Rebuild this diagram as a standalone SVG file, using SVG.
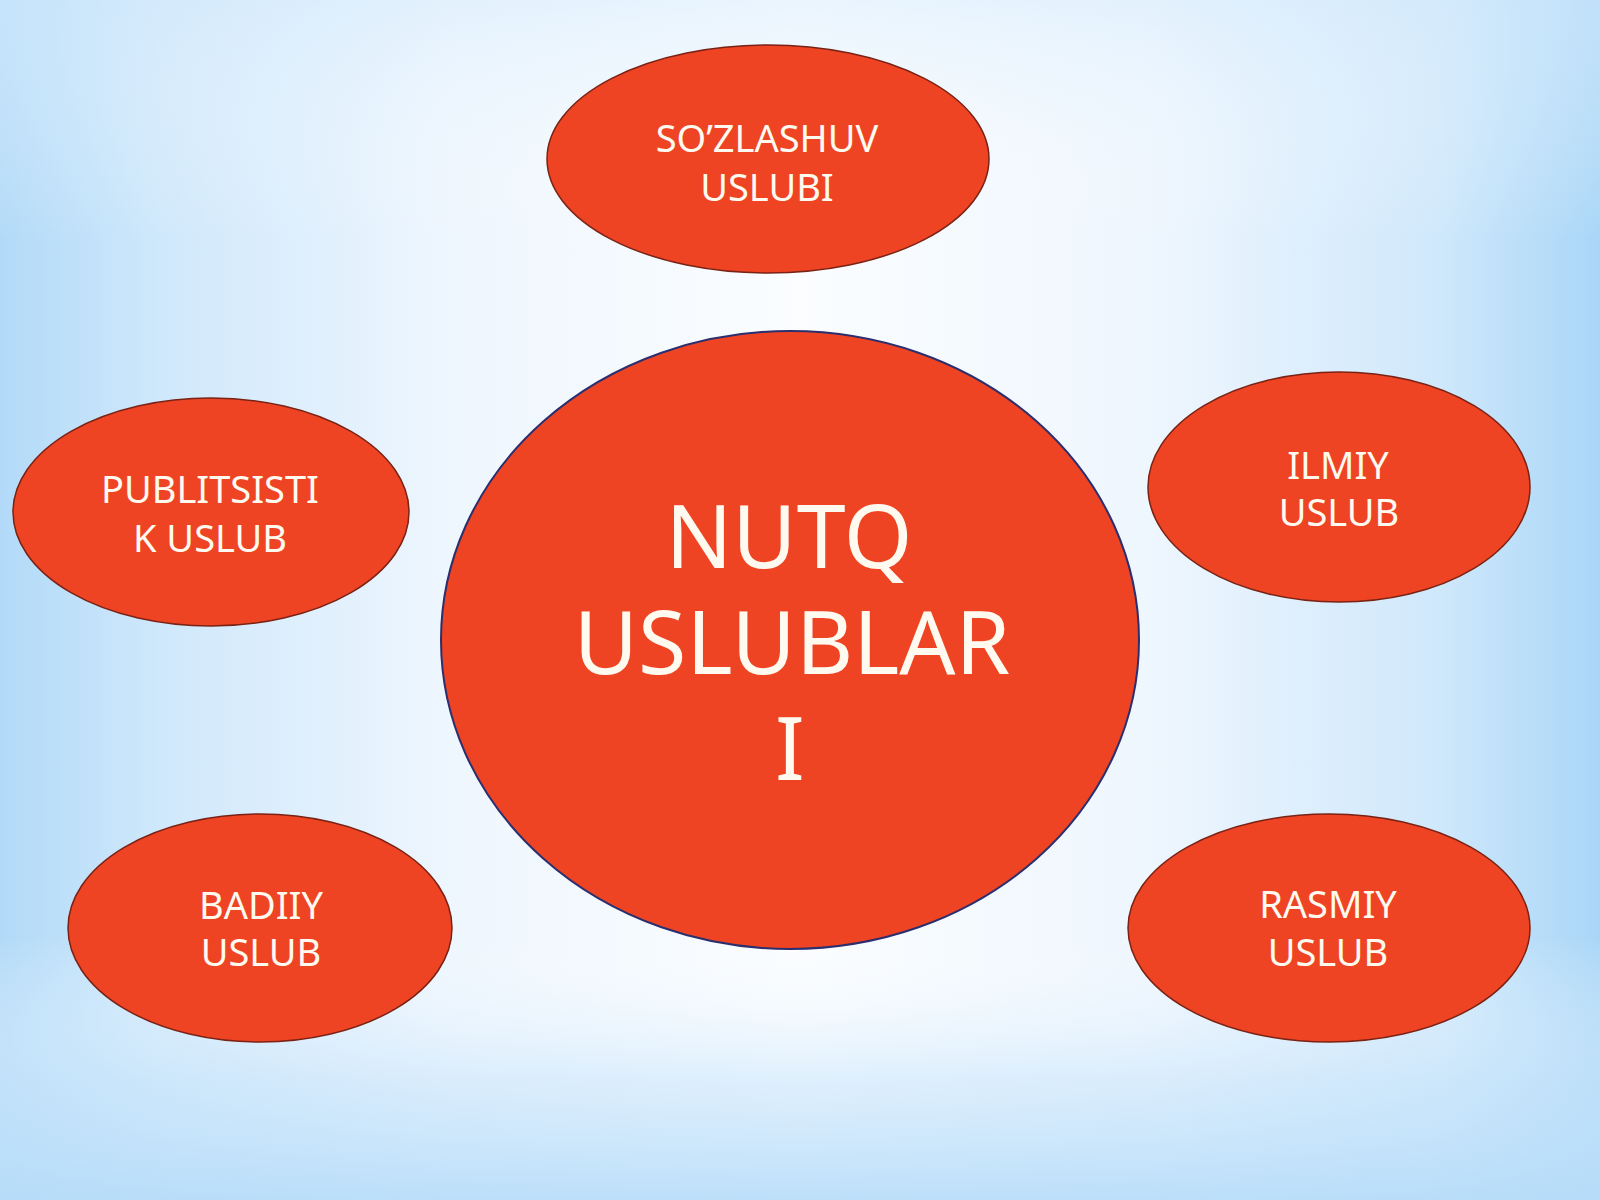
<svg xmlns="http://www.w3.org/2000/svg" width="1600" height="1200" viewBox="0 0 1600 1200">
  <defs>
    <linearGradient id="bgh" x1="0" y1="0" x2="1" y2="0">
      <stop offset="0" stop-color="#b2daf8"/>
      <stop offset="0.1" stop-color="#cfe8fb"/>
      <stop offset="0.28" stop-color="#eef6fe"/>
      <stop offset="0.5" stop-color="#fbfdff"/>
      <stop offset="0.72" stop-color="#eef6fe"/>
      <stop offset="0.9" stop-color="#cfe8fb"/>
      <stop offset="1" stop-color="#a9d6f7"/>
    </linearGradient>
    <linearGradient id="bgv" x1="0" y1="0" x2="0" y2="1">
      <stop offset="0" stop-color="#d8ecfc" stop-opacity="0.5"/>
      <stop offset="0.2" stop-color="#ffffff" stop-opacity="0"/>
      <stop offset="0.78" stop-color="#ffffff" stop-opacity="0"/>
      <stop offset="0.9" stop-color="#cbe6fb" stop-opacity="0.6"/>
      <stop offset="1" stop-color="#b6dcf9" stop-opacity="0.9"/>
    </linearGradient>
  </defs>
  <style>
    .node { fill: #ef4423; stroke: #7a2214; stroke-width: 1.5; }
    .main { fill: #ef4423; stroke: #2b2f6e; stroke-width: 2; }
    .lbl { font-family: "Noto Sans", "Open Sans", sans-serif; fill: #fffaf0; text-anchor: middle; font-size: 38px; }
    .big { font-family: "Noto Sans", "Open Sans", sans-serif; fill: #fffaf0; text-anchor: middle; font-size: 88px; }
  </style>
  <rect x="0" y="0" width="1600" height="1200" fill="url(#bgh)"/>
  <rect x="0" y="0" width="1600" height="1200" fill="url(#bgv)"/>
  <g id="connectors"/>
  <g id="node-center">
    <ellipse class="main" cx="790" cy="640" rx="349" ry="309"/>
    <text class="big" x="789" y="568">NUTQ</text>
    <text class="big" x="792" y="674">USLUBLAR</text>
    <text class="big" x="790" y="780">I</text>
  </g>
  <g id="node-sozlashuv">
    <ellipse class="node" cx="768" cy="159" rx="221" ry="114"/>
    <text class="lbl" x="767" y="152">SO’ZLASHUV</text>
    <text class="lbl" x="767" y="201">USLUBI</text>
  </g>
  <g id="node-publitsistik">
    <ellipse class="node" cx="211" cy="512" rx="198" ry="114"/>
    <text class="lbl" x="210" y="503">PUBLITSISTI</text>
    <text class="lbl" x="210" y="552">K USLUB</text>
  </g>
  <g id="node-ilmiy">
    <ellipse class="node" cx="1339" cy="487" rx="191" ry="115"/>
    <text class="lbl" x="1338" y="479">ILMIY</text>
    <text class="lbl" x="1339" y="526">USLUB</text>
  </g>
  <g id="node-badiiy">
    <ellipse class="node" cx="260" cy="928" rx="192" ry="114"/>
    <text class="lbl" x="261" y="919">BADIIY</text>
    <text class="lbl" x="261" y="966">USLUB</text>
  </g>
  <g id="node-rasmiy">
    <ellipse class="node" cx="1329" cy="928" rx="201" ry="114"/>
    <text class="lbl" x="1328" y="918">RASMIY</text>
    <text class="lbl" x="1328" y="966">USLUB</text>
  </g>
</svg>
